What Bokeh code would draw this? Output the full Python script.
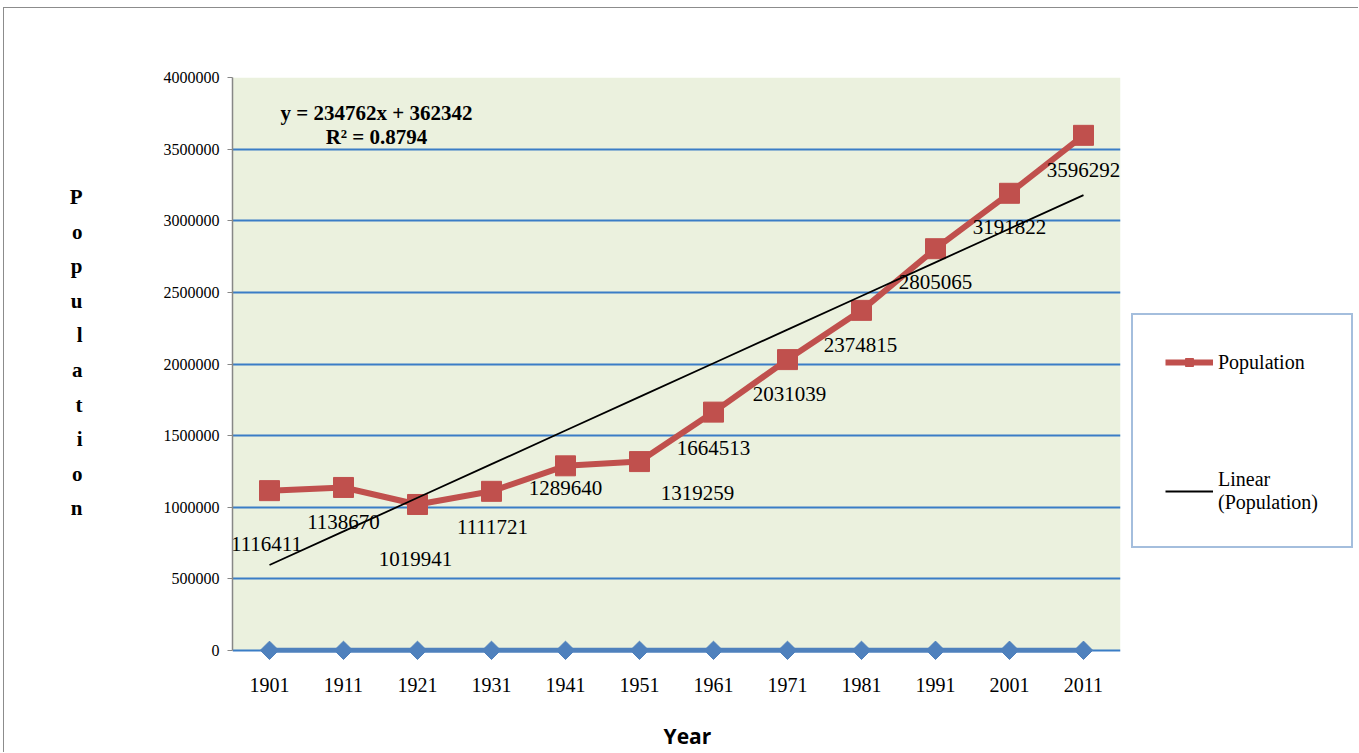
from bokeh.plotting import figure
from bokeh.layouts import row
from bokeh.models import (FactorRange, FixedTicker, Label, Legend, LegendItem,
                          ColumnDataSource, PrintfTickFormatter)
from bokeh.core.properties import value
from bokeh.embed import file_html
from bokeh.resources import INLINE
import math

# ---- data ----
years = ["1901", "1911", "1921", "1931", "1941", "1951",
         "1961", "1971", "1981", "1991", "2001", "2011"]
year_values = [1901, 1911, 1921, 1931, 1941, 1951, 1961, 1971, 1981, 1991, 2001, 2011]
population = [1116411, 1138670, 1019941, 1111721, 1289640, 1319259,
              1664513, 2031039, 2374815, 2805065, 3191822, 3596292]
trend_slope = 234762
trend_intercept = 362342
r_squared = 0.8794
y_ticks = [0, 500000, 1000000, 1500000, 2000000, 2500000, 3000000, 3500000, 4000000]
y_max = 4000000
legend_labels = ["Population", "Linear\n(Population)"]

# label offsets in pixels (style only)
label_dx = [-3, 0, -2, 1, 0, 58, 0, 2, -1, 0, 0, 0]
label_dy = [53, 35, 55, 36, 22, 31, 36, 34, 35, 33, 34, 35]

trend_values = [trend_slope * (i + 1) + trend_intercept for i in range(len(years))]

RED = "#C0504D"
BLUE = "#4F81BD"
GRID = "#3A7DC6"
GREEN_BG = "#EBF1DE"
SERIF = "Liberation Serif"

# a few pixels of room below zero so that the markers on the zero line show whole
y_pad = y_max * 12 / 578

p = figure(width=1126, height=744, output_backend="svg", toolbar_location=None,
           x_range=FactorRange(factors=years, range_padding=0),
           y_range=(-y_pad, y_max),
           min_border_left=228, min_border_right=10, min_border_top=69, min_border_bottom=85)

p.background_fill_color = "white"
p.border_fill_color = "white"
p.outline_line_color = None

# plot area fill (0 .. max)
p.quad(left=[0], right=[len(years)], bottom=[0], top=[y_max],
       fill_color=GREEN_BG, line_color=None, level="image")

# grid
p.xgrid.grid_line_color = None
p.ygrid.grid_line_color = GRID
p.ygrid.grid_line_width = 2
p.ygrid.ticker = FixedTicker(ticks=y_ticks)

# y axis
p.yaxis.ticker = FixedTicker(ticks=y_ticks)
p.yaxis.bounds = (0, y_max)
p.yaxis.formatter = PrintfTickFormatter(format="%d")
p.yaxis.axis_line_color = "#878787"
p.yaxis.axis_line_width = 1.5
p.yaxis.major_tick_line_color = "#878787"
p.yaxis.major_tick_out = 5
p.yaxis.major_tick_in = 0
p.yaxis.minor_tick_line_color = None
p.yaxis.major_label_text_font = SERIF
p.yaxis.major_label_text_font_size = "16px"
p.yaxis.major_label_text_color = "black"
p.yaxis.major_label_standoff = 8
p.yaxis.axis_label = "P\no\np\nu\nl\na\nt\ni\no\nn\n "
p.yaxis.axis_label_orientation = "horizontal"
p.yaxis.axis_label_text_font = SERIF
p.yaxis.axis_label_text_font_style = "bold"
p.yaxis.axis_label_text_font_size = "21px"
p.yaxis.axis_label_text_color = "black"
p.yaxis.axis_label_text_line_height = 1.44
p.yaxis.axis_label_standoff = 78
p.yaxis.axis_label_text_align = "center"

# x axis
p.xaxis.axis_line_color = None
p.xaxis.major_tick_line_color = None
p.xaxis.major_tick_out = 0
p.xaxis.major_tick_in = 0
p.xaxis.minor_tick_line_color = None
p.xaxis.major_label_text_font = SERIF
p.xaxis.major_label_text_font_size = "20px"
p.xaxis.major_label_text_color = "black"
p.xaxis.major_label_standoff = 15
p.xaxis.axis_label = "\u00a0\u00a0\u00a0\u00a0Year"
p.xaxis.axis_label_text_font = "Open Sans"
p.xaxis.axis_label_text_font_style = "bold"
p.xaxis.axis_label_text_font_size = "21px"
p.xaxis.axis_label_text_color = "black"
p.xaxis.axis_label_standoff = 27

# year series (blue diamonds on zero line)
src_year = ColumnDataSource(dict(x=years, y=year_values))
p.line("x", "y", source=src_year, line_color=BLUE, line_width=5)
p.scatter("x", "y", source=src_year, marker="square", angle=math.pi / 4, size=13,
          fill_color=BLUE, line_color=BLUE)

# population series
src = ColumnDataSource(dict(x=years, y=population, t=trend_values,
                            lab=[str(v) for v in population], dx=label_dx, dy=label_dy))
p.line("x", "y", source=src, line_color=RED, line_width=6)
p.scatter("x", "y", source=src, marker="square", size=20, fill_color=RED, line_color=RED)

# trend line
p.line("x", "t", source=src, line_color="black", line_width=1.8)

# data labels
p.text("x", "y", text="lab", source=src, x_offset="dx", y_offset="dy",
       text_font=value(SERIF), text_font_size="21px", text_color="black",
       text_align="center", text_baseline="middle")

# equation (screen units from frame bottom-left)
p.add_layout(Label(x=144, y=550, x_units="screen", y_units="screen",
                   text="y = %dx + %d" % (trend_slope, trend_intercept),
                   text_font=SERIF, text_font_style="bold", text_font_size="21px",
                   text_color="black", text_align="center", text_baseline="middle"))
p.add_layout(Label(x=144, y=526, x_units="screen", y_units="screen",
                   text="R² = %.4f" % r_squared,
                   text_font=SERIF, text_font_style="bold", text_font_size="21px",
                   text_color="black", text_align="center", text_baseline="middle"))

# ---- legend panel (separate canvas to the right of the plot area) ----
lf = figure(width=228, height=744, output_backend="svg", toolbar_location=None,
            x_axis_type=None, y_axis_type=None, x_range=(0, 1), y_range=(0, 1),
            min_border=0, min_border_left=0, min_border_right=0,
            min_border_top=0, min_border_bottom=0)
lf.outline_line_color = None
lf.background_fill_color = "white"
lf.border_fill_color = "white"
lf.xgrid.visible = False
lf.ygrid.visible = False
# proxy renderers kept outside the visible range; they only feed the legend
proxy_x = [-5, -4]
proxy_y = [-5, -4]
lg_line = lf.line(proxy_x, proxy_y, line_color=RED, line_width=6)
lg_pts = lf.scatter(proxy_x, proxy_y, marker="square", size=12, fill_color=RED, line_color=RED)
lg_trend = lf.line(proxy_x, proxy_y, line_color="black", line_width=1.8)

legend = Legend(items=[LegendItem(label=legend_labels[0], renderers=[lg_line, lg_pts]),
                       LegendItem(label=legend_labels[1], renderers=[lg_trend])],
                location=(1, 114), orientation="vertical",
                border_line_color="#4A7EBB", border_line_width=2,
                background_fill_color="white", background_fill_alpha=1,
                padding=32, spacing=91, glyph_width=48, glyph_height=20,
                label_standoff=5, label_width=101, label_height=30,
                label_text_font=SERIF, label_text_font_size="20px",
                label_text_color="black", margin=0)
lf.add_layout(legend, "center")

layout = row(p, lf, spacing=0)
layout.styles = {"border-left": "1px solid #8c8c8c", "border-top": "1px solid #8c8c8c",
                 "margin-left": "3px", "margin-top": "7px"}

open("out.html", "w").write(file_html(layout, INLINE))
